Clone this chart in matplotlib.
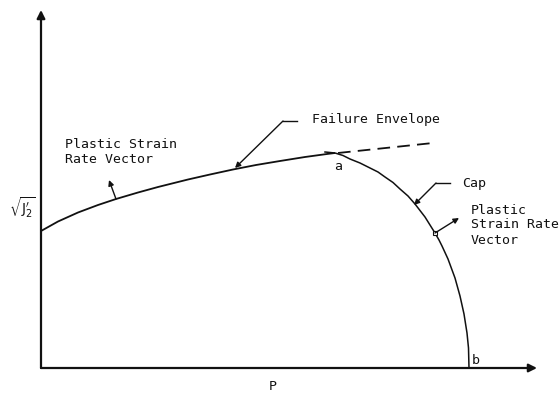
import numpy as np
import matplotlib.pyplot as plt

# Failure envelope: pressure P against sqrt(J2')
env_p = [0, 17, 37, 57, 75, 97, 117, 147, 169, 192, 215, 239, 264, 286, 294]
env_q = [137, 146.5, 155.5, 163, 169, 175.5, 181, 188.5, 193.5, 198.5, 203, 207, 211, 214, 215]

# Extension of the envelope beyond point a
ext_p = [297, 392]
ext_q = [215, 225]

# Cap surface, from just above a down to b on the P axis
cap_p = [284, 294, 302, 309, 319, 329, 337, 344, 352, 359, 367, 374, 379, 384, 389,
         394, 398, 401, 407, 414, 419, 423, 426, 427.5, 428]
cap_q = [216, 215, 212.5, 209, 205, 200, 196, 191, 185.5, 179, 172, 164, 157.5, 151, 143,
         135, 128, 122, 109, 90, 72, 54, 35, 20, 0]

FONT = 'DejaVu Sans Mono'
INK = '#111111'

fig = plt.figure(figsize=(5.59, 3.93), dpi=100)
ax = fig.add_axes([0, 0, 1, 1])
ax.set_xlim(-41, 518)
ax.set_ylim(-25, 368)
ax.axis('off')

# axes with arrow heads
ax.annotate('', xy=(0, 358), xytext=(0, 0),
            arrowprops=dict(arrowstyle='-|>', lw=1.6, color=INK, mutation_scale=12,
                            shrinkA=0, shrinkB=0))
ax.annotate('', xy=(496, 0), xytext=(0, 0),
            arrowprops=dict(arrowstyle='-|>', lw=1.6, color=INK, mutation_scale=12,
                            shrinkA=0, shrinkB=0))

ax.plot(env_p, env_q, color=INK, lw=1.3, solid_capstyle='butt')
ax.plot(ext_p, ext_q, color=INK, lw=1.3, linestyle=(0, (7, 4)))
ax.plot(cap_p, cap_q, color=INK, lw=1.1, solid_joinstyle='round')

arrow = dict(arrowstyle='-|>', lw=1.0, color=INK, mutation_scale=8, shrinkA=0, shrinkB=0)

# strain rate vector normal to the envelope
ax.annotate('', xy=(68, 188), xytext=(75, 169), arrowprops=arrow)
# strain rate vector normal to the cap
ax.annotate('', xy=(418, 150), xytext=(394, 135), arrowprops=arrow)
ax.plot([394], [135], marker='s', ms=2.5, mfc='white', mec=INK, mew=0.8)

# leader lines
ax.plot([256, 242], [247, 247], color=INK, lw=1.0)
ax.annotate('', xy=(194, 200), xytext=(242, 247), arrowprops=arrow)
ax.plot([409, 395], [185, 185], color=INK, lw=1.0)
ax.annotate('', xy=(373, 163), xytext=(395, 185), arrowprops=arrow)

txt = dict(family=FONT, fontsize=9.5, color=INK)
ax.text(24, 216, 'Plastic Strain\nRate Vector', ha='left', va='center', linespacing=1.2, **txt)
ax.text(271, 248, 'Failure Envelope', ha='left', va='center', **txt)
ax.text(297, 202, 'a', ha='center', va='center', **txt)
ax.text(421, 185, 'Cap', ha='left', va='center', **txt)
ax.text(430, 143, 'Plastic\nStrain Rate\nVector', ha='left', va='center', linespacing=1.2, **txt)
ax.text(435, 8, 'b', ha='center', va='center', **txt)
ax.text(232, -18, 'P', ha='center', va='center', **txt)
ax.text(-19, 160, r"$\sqrt{\mathrm{J}_2^{\prime}}$", ha='center', va='center', fontsize=10, color=INK)

fig.savefig('out.png', dpi=100, facecolor='white')
